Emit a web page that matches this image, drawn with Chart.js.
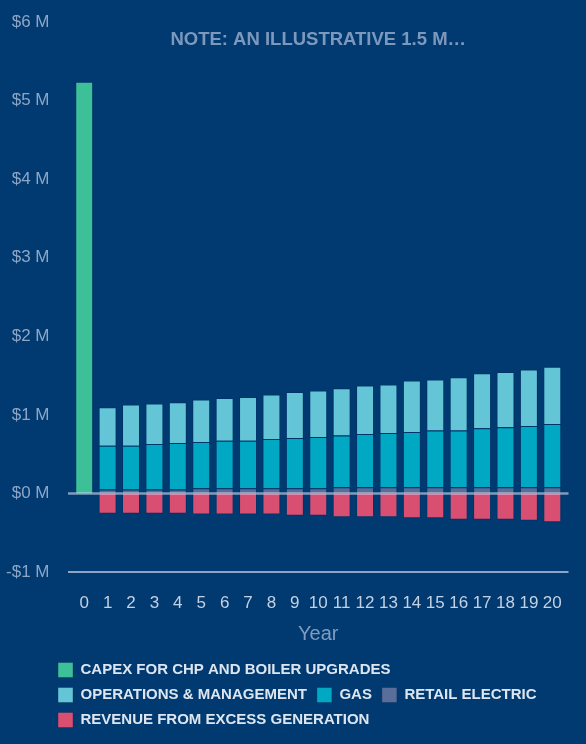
<!DOCTYPE html>
<html>
<head>
<meta charset="utf-8">
<script src="https://cdn.jsdelivr.net/npm/chart.js@4.4.1/dist/chart.umd.min.js"></script>
<style>
  html, body { margin: 0; padding: 0; background: #003a70; }
  #wrap { width: 586px; height: 744px; }
</style>
</head>
<body>
<div id="wrap"><canvas id="costChart"></canvas></div>
<script>
// values in $ millions, one per year 0..20
const years = ['0', '1', '2', '3', '4', '5', '6', '7', '8', '9', '10',
               '11', '12', '13', '14', '15', '16', '17', '18', '19', '20'];
const capex = [5.24, null, null, null, null, null, null, null, null, null, null,
               null, null, null, null, null, null, null, null, null, null];
const retailElectric = [null, 0.05, 0.05, 0.05, 0.05, 0.065, 0.065, 0.065, 0.065, 0.065, 0.065,
                        0.08, 0.08, 0.08, 0.08, 0.08, 0.08, 0.08, 0.08, 0.08, 0.08];
const gas = [null, 0.558, 0.558, 0.579, 0.592, 0.59, 0.607, 0.607, 0.628, 0.64, 0.653,
             0.656, 0.676, 0.689, 0.702, 0.72, 0.72, 0.749, 0.762, 0.779, 0.804];
const operations = [null, 0.489, 0.523, 0.515, 0.519, 0.54, 0.544, 0.556, 0.566, 0.587, 0.592,
                    0.603, 0.618, 0.617, 0.655, 0.65, 0.68, 0.701, 0.705, 0.719, 0.727];
const revenue = [null, -0.26, -0.26, -0.26, -0.26, -0.268, -0.268, -0.268, -0.268, -0.285, -0.285,
                 -0.302, -0.302, -0.302, -0.315, -0.315, -0.336, -0.336, -0.336, -0.349, -0.366];
const yTicks = [-1, 0, 1, 2, 3, 4, 5, 6];
const noteTitle = 'NOTE: AN ILLUSTRATIVE 1.5 M\u2026';

// legend shows datasets in this order (index -> rank)
const legendRank = [0, 3, 2, 1, 4];

const fontFamily = '"Liberation Sans", Arial, sans-serif';

const overlay = {
  id: 'overlay',
  afterLayout(chart) {
    chart.legend.left = 48;
  },
  afterDatasetsDraw(chart) {
    const { ctx, chartArea, scales } = chart;
    const x0 = chartArea.left - 4.5;
    const x1 = chartArea.right + 4.5;
    ctx.save();
    ctx.lineWidth = 2.5;
    ctx.strokeStyle = 'rgba(210,222,240,0.6)';
    const yZero = scales.y.getPixelForValue(0);
    ctx.beginPath();
    ctx.moveTo(x0, yZero);
    ctx.lineTo(x1, yZero);
    ctx.stroke();

    ctx.lineWidth = 2;
    ctx.strokeStyle = '#8ea6c6';
    const yBottom = scales.y.getPixelForValue(-1);
    ctx.beginPath();
    ctx.moveTo(x0, yBottom);
    ctx.lineTo(x1, yBottom);
    ctx.stroke();

    ctx.font = 'bold 18.5px ' + fontFamily;
    ctx.fillStyle = '#7d98bd';
    ctx.textAlign = 'center';
    ctx.textBaseline = 'middle';
    ctx.fillText(noteTitle, (chartArea.left + chartArea.right) / 2, chartArea.top + 18);
    ctx.restore();
  }
};

const border = 'rgba(0,40,90,0.35)';

const ctx = document.getElementById('costChart').getContext('2d');
const costChart = new Chart(ctx, {
  type: 'bar',
  data: {
    labels: years,
    datasets: [
      { label: 'CAPEX FOR CHP AND BOILER UPGRADES', data: capex,
        backgroundColor: '#3dbf97', borderColor: border, borderWidth: 1 },
      { label: 'RETAIL ELECTRIC', data: retailElectric,
        backgroundColor: '#5a6e9a', borderColor: border, borderWidth: 1 },
      { label: 'GAS', data: gas,
        backgroundColor: '#00a8c4', borderColor: border, borderWidth: 1 },
      { label: 'OPERATIONS & MANAGEMENT', data: operations,
        backgroundColor: '#63c5d5', borderColor: border, borderWidth: 1 },
      { label: 'REVENUE FROM EXCESS GENERATION', data: revenue,
        backgroundColor: '#d84f72', borderColor: border, borderWidth: 1 }
    ]
  },
  options: {
    responsive: true,
    maintainAspectRatio: false,
    animation: false,
    barPercentage: 0.96,
    categoryPercentage: 0.8,
    layout: { padding: { top: 22, left: 6, right: 22, bottom: 6.5 } },
    scales: {
      x: {
        stacked: true,
        afterFit(axis) { axis.height = 80.5; },
        grid: { display: false, drawTicks: false },
        border: { display: false },
        ticks: { color: '#c3d1e3', padding: 21, maxRotation: 0, autoSkip: false,
                 font: { family: fontFamily, size: 17 } },
        title: { display: true, text: 'Year', color: '#7f9cc0',
                 font: { family: fontFamily, size: 20 },
                 padding: { top: 6.5, bottom: 6.5 } }
      },
      y: {
        stacked: true,
        min: -1,
        max: 6,
        afterBuildTicks(axis) {
          axis.ticks = yTicks.map(v => ({ value: v }));
        },
        afterFit(axis) {
          axis.width = 66.5;
          axis.paddingTop = 10;
          axis.paddingBottom = 10;
        },
        grid: { display: false, drawTicks: false },
        border: { display: false },
        ticks: {
          color: '#8ca6c7',
          padding: 23,
          font: { family: fontFamily, size: 17 },
          callback: v => (v < 0 ? '-$' + Math.abs(v) : '$' + v) + ' M'
        }
      }
    },
    plugins: {
      legend: {
        position: 'bottom',
        align: 'start',
        labels: {
          color: '#dde6f0',
          boxWidth: 15,
          boxHeight: 15,
          padding: 10,
          font: { family: fontFamily, size: 15, weight: 'bold' },
          sort: (a, b) => legendRank[a.datasetIndex] - legendRank[b.datasetIndex]
        }
      },
      tooltip: { enabled: false }
    }
  },
  plugins: [overlay]
});
</script>
</body>
</html>
